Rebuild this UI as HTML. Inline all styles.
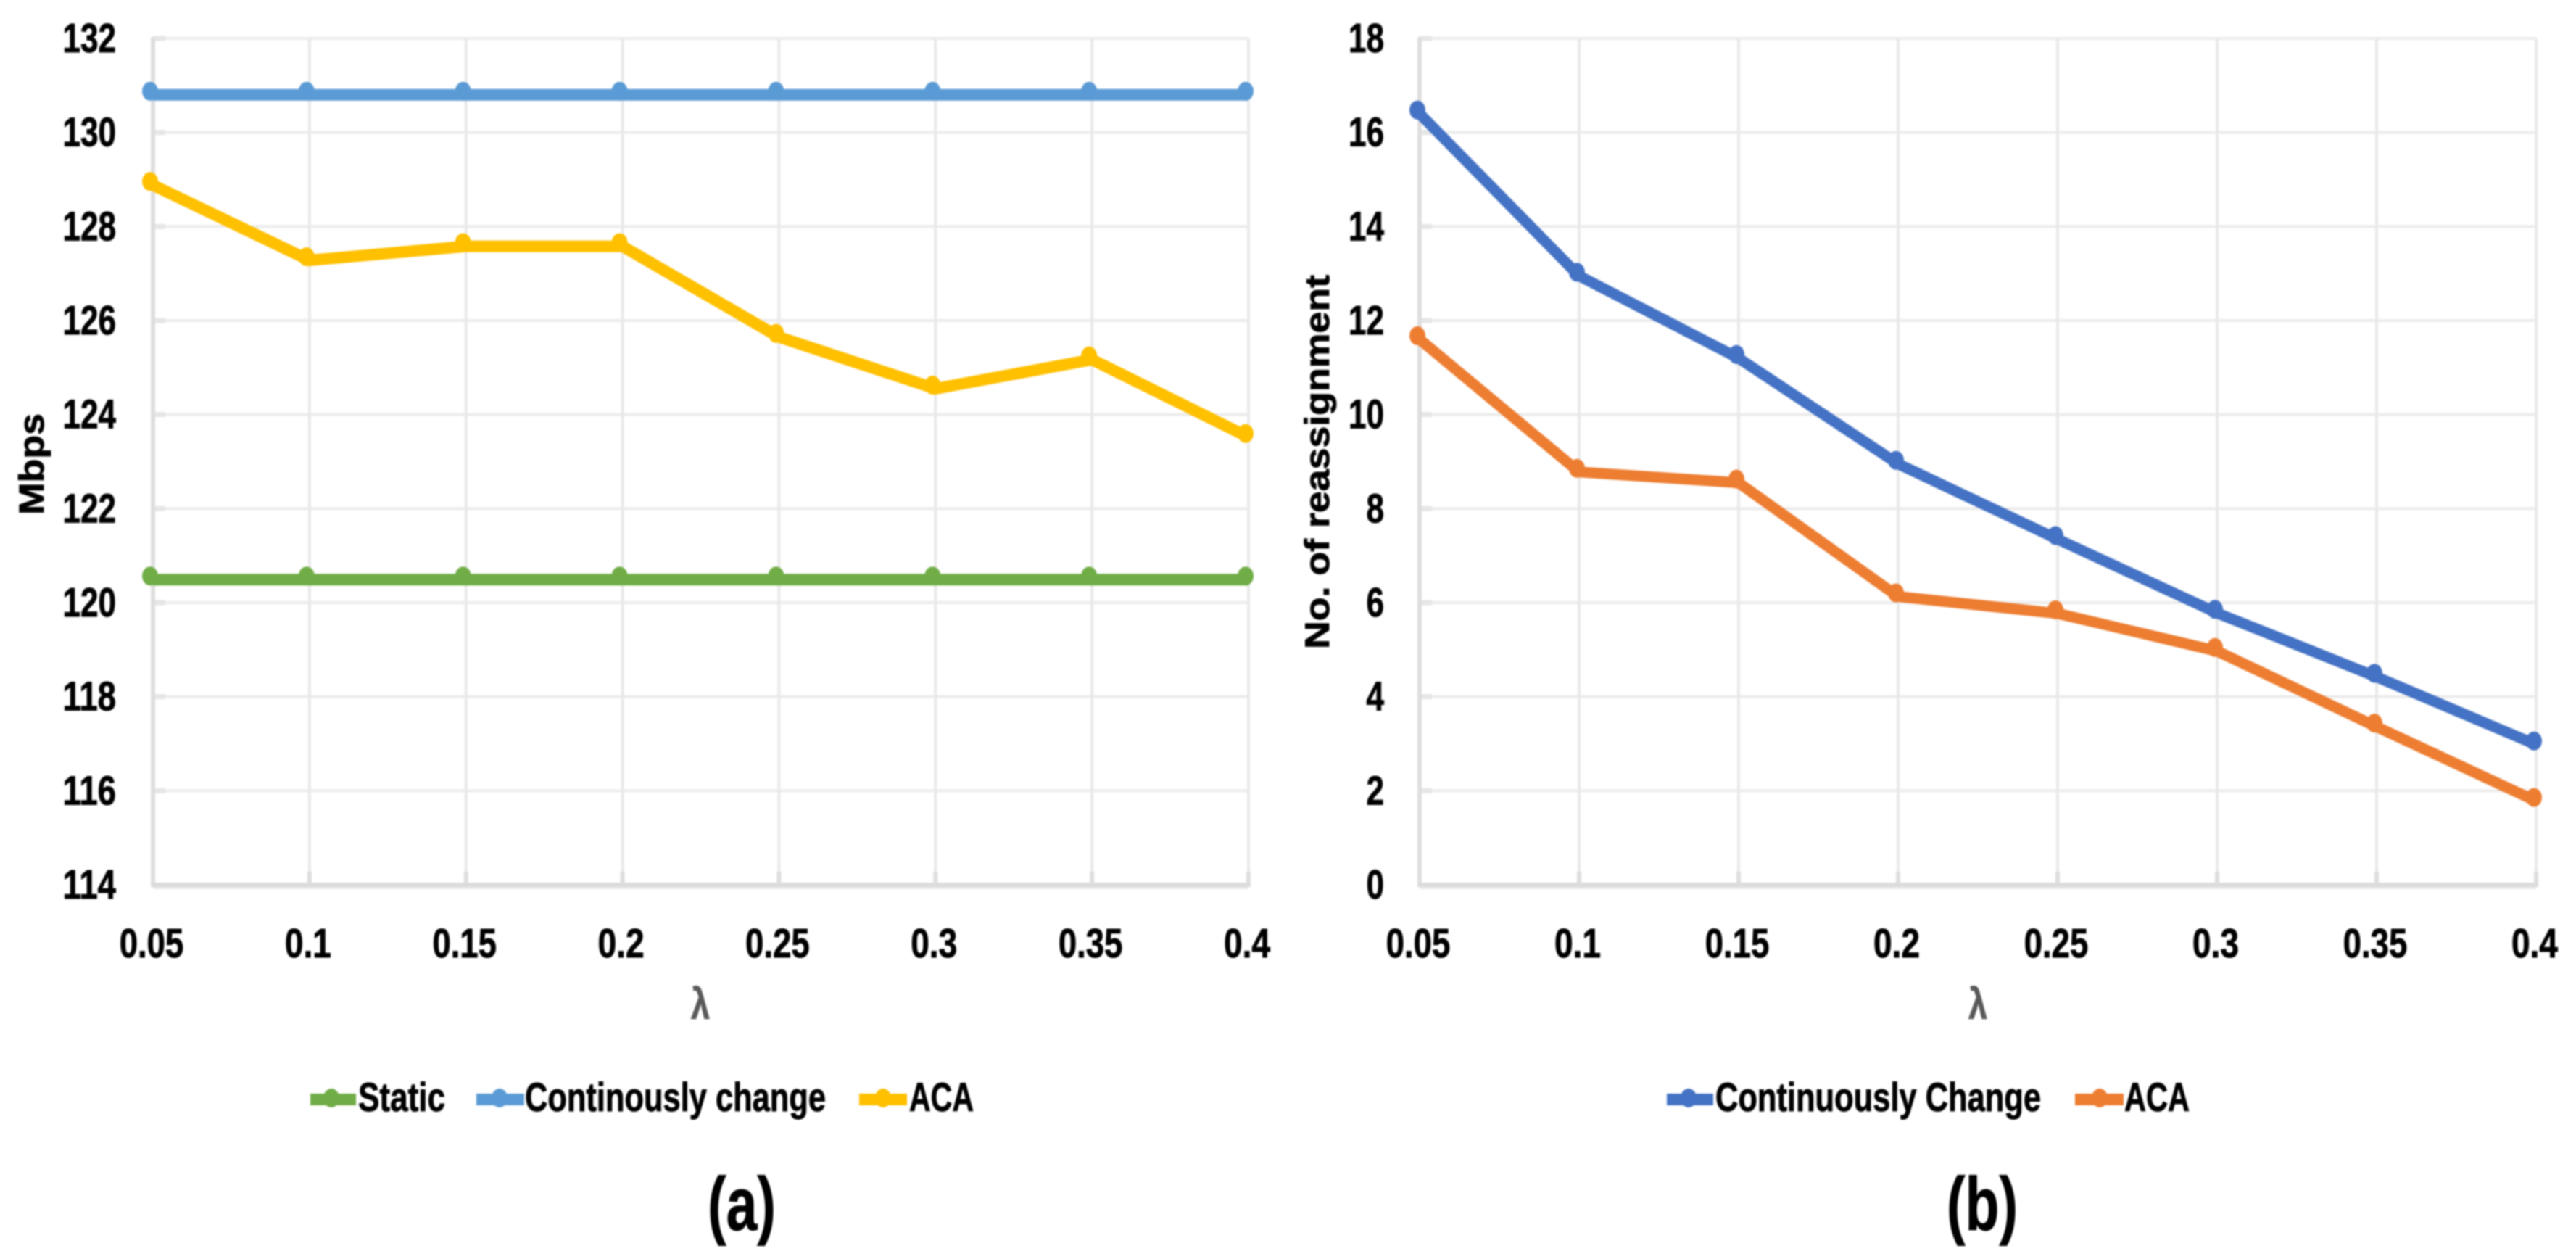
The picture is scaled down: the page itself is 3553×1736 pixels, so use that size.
<!DOCTYPE html>
<html lang="en">
<head>
<meta charset="utf-8">
<title>Throughput and reassignment charts</title>
<style>
html,body{margin:0;padding:0;background:#fff;width:3553px;height:1736px;overflow:hidden}
svg{display:block;filter:blur(1px)}
text{font-family:"Liberation Sans",sans-serif;font-weight:bold;fill:#000;stroke:#000;stroke-width:0.9px}
</style>
</head>
<body>
<svg id="figure" xmlns="http://www.w3.org/2000/svg" width="3553" height="1736" viewBox="0 0 3553 1736">
  <rect x="0" y="0" width="3553" height="1736" fill="#fff"/>
  <g id="chart-a"></g>
  <g id="chart-b"></g>

  <text transform="translate(60,710) rotate(-90)" font-size="48" textLength="140" lengthAdjust="spacingAndGlyphs">Mbps</text>
  <text transform="translate(1833,895) rotate(-90)" font-size="47" textLength="516" lengthAdjust="spacingAndGlyphs">No. of reassignment</text>
  <text x="953" y="1405" font-size="60" textLength="26" lengthAdjust="spacingAndGlyphs" style="fill:#595959;stroke:#595959">λ</text>
  <text x="2715" y="1405" font-size="60" textLength="26" lengthAdjust="spacingAndGlyphs" style="fill:#595959;stroke:#595959">λ</text>

  <g>
    <g>
      <line x1="428" x2="491" y1="1516" y2="1516" stroke="#70ad47" stroke-width="16"/>
      <ellipse cx="457" cy="1514" rx="11" ry="13" fill="#70ad47"/>
      <text x="494" y="1532" font-size="56" textLength="120" lengthAdjust="spacingAndGlyphs">Static</text>
    </g>
    <g>
      <line x1="657" x2="723" y1="1516" y2="1516" stroke="#5b9bd5" stroke-width="16"/>
      <ellipse cx="689" cy="1514" rx="11" ry="13" fill="#5b9bd5"/>
      <text x="724" y="1532" font-size="56" textLength="415" lengthAdjust="spacingAndGlyphs">Continously change</text>
    </g>
    <g>
      <line x1="1185" x2="1251" y1="1516" y2="1516" stroke="#ffc000" stroke-width="16"/>
      <ellipse cx="1218" cy="1514" rx="11" ry="13" fill="#ffc000"/>
      <text x="1254" y="1532" font-size="56" textLength="89" lengthAdjust="spacingAndGlyphs">ACA</text>
    </g>
  </g>

  <g>
    <g>
      <line x1="2299" x2="2363" y1="1516" y2="1516" stroke="#4472c4" stroke-width="16"/>
      <ellipse cx="2329" cy="1514" rx="11" ry="13" fill="#4472c4"/>
      <text x="2366" y="1532" font-size="56" textLength="449" lengthAdjust="spacingAndGlyphs">Continuously Change</text>
    </g>
    <g>
      <line x1="2862" x2="2929" y1="1516" y2="1516" stroke="#ed7d31" stroke-width="16"/>
      <ellipse cx="2896" cy="1514" rx="11" ry="13" fill="#ed7d31"/>
      <text x="2930" y="1532" font-size="56" textLength="90" lengthAdjust="spacingAndGlyphs">ACA</text>
    </g>
  </g>

  <text x="976" y="1696" font-size="104" textLength="94" lengthAdjust="spacingAndGlyphs">(a)</text>
  <text x="2685" y="1696" font-size="104" textLength="98" lengthAdjust="spacingAndGlyphs">(b)</text>
</svg>

<script>
// Shared category labels
const categories = ['0.05', '0.1', '0.15', '0.2', '0.25', '0.3', '0.35', '0.4'];

// Chart (a): throughput in Mbps
const ticksA = ['114', '116', '118', '120', '122', '124', '126', '128', '130', '132'];
const staticValues = [120.49, 120.49, 120.49, 120.49, 120.49, 120.49, 120.49, 120.49];
const continouslyChangeValues = [130.8, 130.8, 130.8, 130.8, 130.8, 130.8, 130.8, 130.8];
const acaValuesA = [128.88, 127.28, 127.58, 127.58, 125.65, 124.55, 125.17, 123.52];

// Chart (b): number of reassignments
const ticksB = ['0', '2', '4', '6', '8', '10', '12', '14', '16', '18'];
const continuouslyChangeValues = [16.4, 12.95, 11.2, 8.95, 7.35, 5.78, 4.42, 2.98];
const acaValuesB = [11.6, 8.78, 8.55, 6.13, 5.77, 4.97, 3.36, 1.78];

const NS = 'http://www.w3.org/2000/svg';

function mk(parent, tag, attrs) {
  const e = document.createElementNS(NS, tag);
  for (const k in attrs) e.setAttribute(k, attrs[k]);
  parent.appendChild(e);
  return e;
}

function labelWidth(s) {
  let w = 0;
  for (const c of s) w += (c === '.') ? 15 : 24.5;
  return w;
}

function drawChart(root, frame, yTicks, series) {
  const yMin = Number(yTicks[0]);
  const yMax = Number(yTicks[yTicks.length - 1]);
  const xAt = (i) => frame.left + (frame.right - frame.left) * i / (categories.length - 1);
  const yAt = (v) => frame.bottom - (frame.bottom - frame.top) * (v - yMin) / (yMax - yMin);

  // Horizontal gridlines and y tick labels
  yTicks.forEach((t) => {
    const v = Number(t);
    const y = yAt(v);
    if (v !== yMin) {
      const g = mk(root, 'line', {x1: frame.left, x2: frame.right, y1: y, y2: y, stroke: '#ececec', 'stroke-width': 4});
      
      
      const tk = mk(root, 'line', {x1: frame.left, x2: frame.left + 17, y1: y, y2: y, stroke: '#e6e6e6', 'stroke-width': 7});
      
      
    }
    const w = labelWidth(t);
    const lab = mk(root, 'text', {x: frame.labelRight - w, y: y + 19, 'font-size': 57, textLength: w, lengthAdjust: 'spacingAndGlyphs'});
    lab.textContent = t;
    
    
  });

  // Vertical gridlines, x ticks and x tick labels
  categories.forEach((c, i) => {
    const x = xAt(i);
    if (i > 0) {
      const g = mk(root, 'line', {x1: x, x2: x, y1: frame.top, y2: frame.bottom, stroke: '#e9e9e9', 'stroke-width': 4});
      
      
    }
    const tk = mk(root, 'line', {x1: x, x2: x, y1: frame.bottom - 18, y2: frame.bottom, stroke: '#dedede', 'stroke-width': 6});
    
    
    const w = labelWidth(c);
    const lab = mk(root, 'text', {x: x - 2 - w / 2, y: 1320, 'font-size': 57, textLength: w, lengthAdjust: 'spacingAndGlyphs'});
    lab.textContent = c;
    
    
  });

  // Axis lines
  const yAxis = mk(root, 'line', {x1: frame.left, x2: frame.left, y1: frame.top - 2, y2: frame.bottom, stroke: '#dedede', 'stroke-width': 6});
  
  
  const xAxisShadow = mk(root, 'line', {x1: frame.left, x2: frame.right, y1: frame.bottom + 3, y2: frame.bottom + 3, stroke: '#e9e9e9', 'stroke-width': 6});
  
  
  const xAxis = mk(root, 'line', {x1: frame.left - 3, x2: frame.right + 3, y1: frame.bottom, y2: frame.bottom, stroke: '#dcdcdc', 'stroke-width': 6});
  
  

  // Series
  series.forEach((s) => {
    const group = mk(root, 'g', {});
    
    
    const pts = s.values.map((v, i) => xAt(i).toFixed(1) + ',' + yAt(v).toFixed(1)).join(' ');
    const line = mk(group, 'polyline', {points: pts, fill: 'none', stroke: s.color, 'stroke-width': s.width, 'stroke-linejoin': 'miter', 'stroke-miterlimit': 6});
    
    
    s.values.forEach((v, i) => {
      const m = mk(group, 'ellipse', {cx: xAt(i) + frame.markerDx, cy: yAt(v) - 5, rx: 11, ry: 13, fill: s.color});
      
      
    });
  });
}

drawChart(document.getElementById('chart-a'),
  {left: 211, right: 1722, top: 53, bottom: 1220, labelRight: 160, markerDx: -4},
  ticksA,
  [
    {name: 'static', values: staticValues, color: '#70ad47', width: 16},
    {name: 'continously-change', values: continouslyChangeValues, color: '#5b9bd5', width: 16},
    {name: 'aca', values: acaValuesA, color: '#ffc000', width: 16}
  ]);

drawChart(document.getElementById('chart-b'),
  {left: 1958, right: 3498, top: 53, bottom: 1220, labelRight: 1909, markerDx: -3},
  ticksB,
  [
    {name: 'continuously-change', values: continuouslyChangeValues, color: '#4472c4', width: 15},
    {name: 'aca', values: acaValuesB, color: '#ed7d31', width: 15}
  ]);
</script>
</body>
</html>
